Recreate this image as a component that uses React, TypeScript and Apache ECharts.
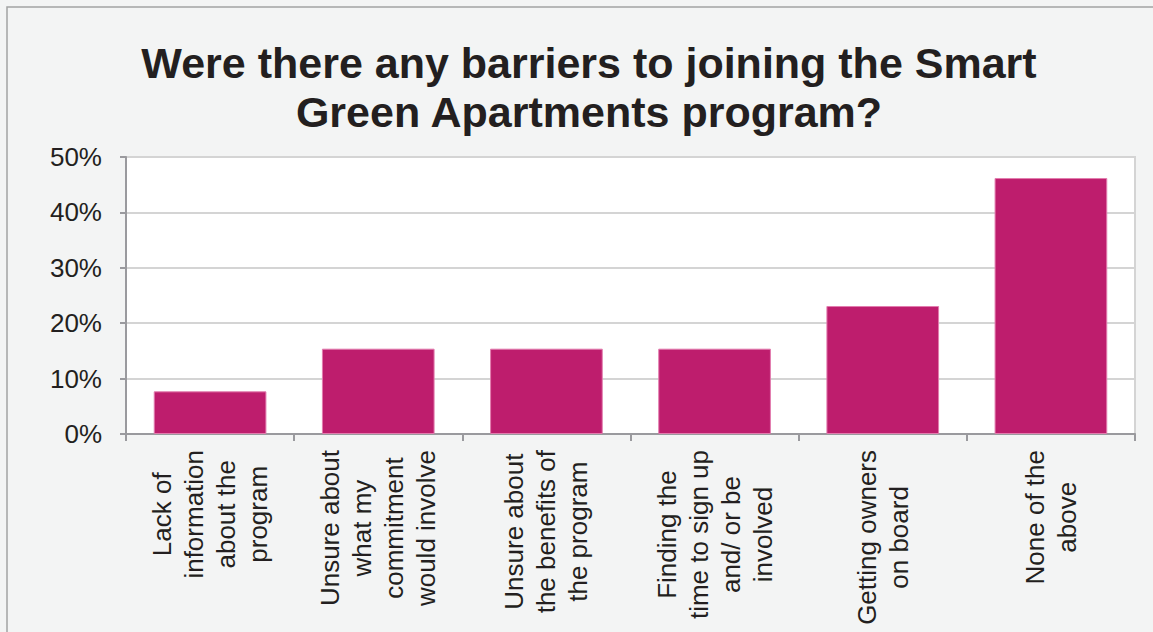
import React, { useEffect, useRef } from "react";
import * as echarts from "echarts";

const titleLines = [
  "Were there any barriers to joining the Smart",
  "Green Apartments program?",
];
const categories = [
  "Lack of\ninformation\nabout the\nprogram",
  "Unsure about\nwhat my\ncommitment\nwould involve",
  "Unsure about\nthe benefits of\nthe program",
  "Finding the\ntime to sign up\nand/ or be\ninvolved",
  "Getting owners\non board",
  "None of the\nabove",
];
const values = [7.7, 15.4, 15.4, 15.4, 23.1, 46.2];
const yTicks = [0, 10, 20, 30, 40, 50];

const FONT = "'Liberation Sans', Arial, sans-serif";

export default function App() {
  const ref = useRef<HTMLDivElement>(null);
  useEffect(() => {
    if (!ref.current) return;
    const chart = echarts.init(ref.current, undefined, { renderer: "svg" });
    chart.setOption({
      animation: false,
      backgroundColor: "#f3f4f4",
      title: {
        text: titleLines.join("\n"),
        left: 589,
        top: 38,
        padding: 0,
        textAlign: "center",
        textStyle: {
          fontFamily: FONT,
          fontSize: 43,
          fontWeight: "bold",
          lineHeight: 49,
          color: "#231f20",
        },
      },
      graphic: [
        {
          type: "rect",
          shape: { x: 7, y: 7, width: 1300, height: 800 },
          style: { fill: "none", stroke: "#a3a3a3", lineWidth: 1.5 },
          silent: true,
        },
      ],
      grid: {
        left: 126,
        right: 18,
        top: 157,
        bottom: 198,
        show: true,
        backgroundColor: "#ffffff",
        borderColor: "#d4d4d4",
        borderWidth: 2,
      },
      xAxis: {
        type: "category",
        data: categories,
        axisLine: { lineStyle: { color: "#9a9a9e", width: 2 } },
        axisTick: { show: true, length: 7, lineStyle: { color: "#9a9a9e", width: 2 } },
        axisLabel: {
          rotate: 90,
          margin: 16,
          interval: 0,
          fontFamily: FONT,
          fontSize: 26,
          lineHeight: 32,
          color: "#231f20",
          formatter: (v: string) =>
            v
              .split("\n")
              .map((l) => `{c|${l}}`)
              .join("\n"),
          rich: {
            c: {
              align: "center",
              fontFamily: FONT,
              fontSize: 26,
              lineHeight: 32,
              color: "#231f20",
            },
          },
        },
      },
      yAxis: {
        type: "value",
        min: yTicks[0],
        max: yTicks[yTicks.length - 1],
        interval: 10,
        axisLine: { show: true, lineStyle: { color: "#9a9a9e", width: 2 } },
        axisTick: { show: true, length: 6, lineStyle: { color: "#9a9a9e", width: 2 } },
        splitLine: { show: true, lineStyle: { color: "#d4d4d4", width: 2 } },
        axisLabel: {
          margin: 24,
          fontFamily: FONT,
          fontSize: 26,
          color: "#231f20",
          formatter: "{value}%",
        },
      },
      series: [
        {
          type: "bar",
          data: values,
          barCategoryGap: "33%",
          itemStyle: { color: "#be1d6d", borderColor: "#e27cae", borderWidth: 1 },
        },
      ],
    });
    return () => chart.dispose();
  }, []);
  return (
    <div
      ref={ref}
      style={{ position: "fixed", left: 0, top: 0, width: 1153, height: 632 }}
    />
  );
}
